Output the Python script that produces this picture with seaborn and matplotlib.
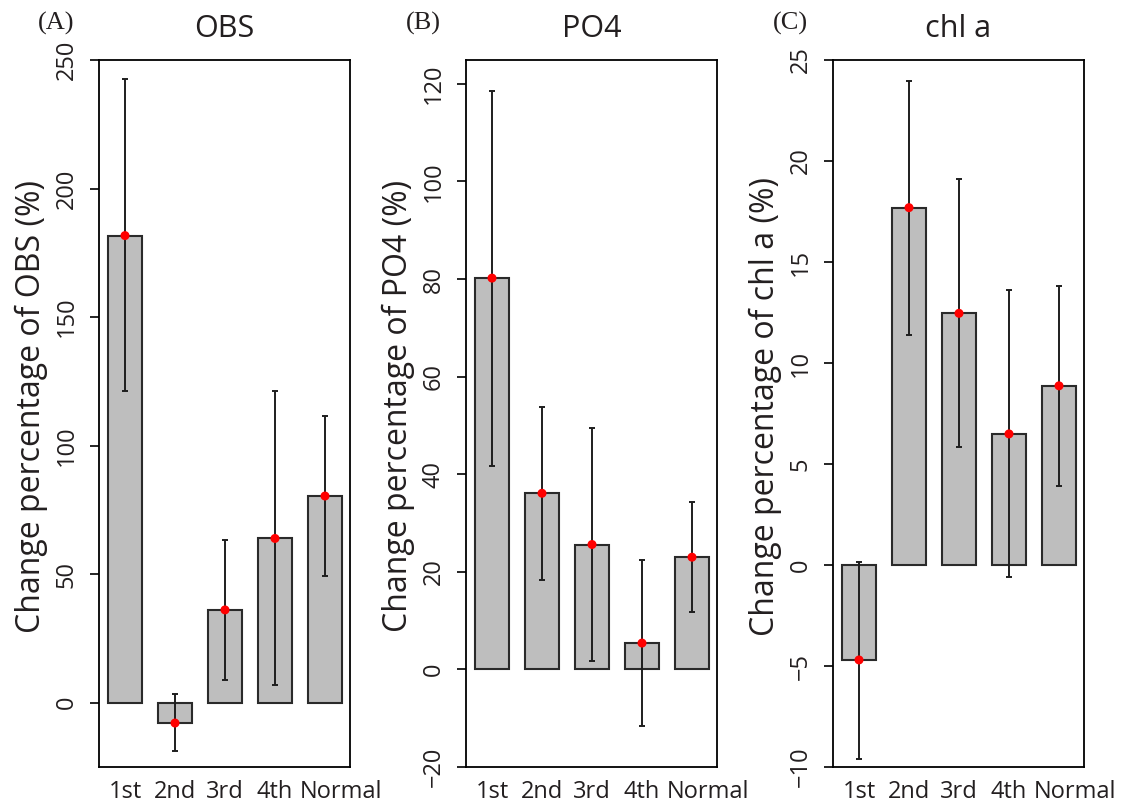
import numpy as np
import pandas as pd
import matplotlib
matplotlib.use("Agg")
import matplotlib.pyplot as plt
import matplotlib.transforms as mtransforms
import seaborn as sns

# ---------------- data ----------------
periods = ["1st", "2nd", "3rd", "4th", "Normal"]

obs_mean = [181.7, -7.9, 36.1, 63.9, 80.4]
obs_low = [121.2, -18.8, 8.8, 6.9, 49.3]
obs_high = [242.7, 3.4, 63.3, 121.1, 111.4]

po4_mean = [80.2, 36.1, 25.6, 5.4, 23.0]
po4_low = [41.7, 18.4, 1.8, -11.5, 11.7]
po4_high = [118.6, 53.8, 49.5, 22.5, 34.4]

chl_mean = [-4.70, 17.69, 12.46, 6.49, 8.87]
chl_low = [-9.58, 11.39, 5.85, -0.61, 3.92]
chl_high = [0.16, 23.97, 19.09, 13.59, 13.81]

titles = ["OBS", "PO4", "chl a"]
panel_tags = ["(A)", "(B)", "(C)"]
ylabels = ["Change percentage of OBS (%)",
           "Change percentage of PO4 (%)",
           "Change percentage of chl a (%)"]
yticks_list = [[0, 50, 100, 150, 200, 250],
               [-20, 0, 20, 40, 60, 80, 100, 120],
               [-10, -5, 0, 5, 10, 15, 20, 25]]
ylims = [(-25, 250), (-20, 124.9), (-10, 25)]

# ---------------- style ----------------
sns.set_theme(style="white")
plt.rcParams["font.family"] = ["Open Sans", "DejaVu Sans"]
plt.rcParams["axes.unicode_minus"] = True

W, H = 1126, 807
fig = plt.figure(figsize=(W / 100, H / 100), dpi=100)
fig.patch.set_facecolor("white")

axes_px = [(99, 350), (466, 717), (833, 1084)]
top_px, bot_px = 60, 767

series = [(obs_mean, obs_low, obs_high),
          (po4_mean, po4_low, po4_high),
          (chl_mean, chl_low, chl_high)]

edge = "#2a2a2a"
txt = "#231f20"
for i, ((m, lo, hi), (l_px, r_px)) in enumerate(zip(series, axes_px)):
    ax = fig.add_axes([l_px / W, 1 - bot_px / H, (r_px - l_px) / W, (bot_px - top_px) / H])
    df = pd.DataFrame({"period": periods, "mean": m, "low": lo, "high": hi})
    sns.barplot(data=df, x="period", y="mean", ax=ax, color="#BEBEBE",
                saturation=1, edgecolor=edge, linewidth=1.5, width=0.68,
                errorbar=None, zorder=2)
    xpos = np.arange(len(df))
    mean = df["mean"].to_numpy()
    yerr = np.vstack([mean - df["low"].to_numpy(), df["high"].to_numpy() - mean])
    ax.errorbar(xpos, mean, yerr=yerr, fmt="none", ecolor="#1e1e1e",
                elinewidth=1.4, capsize=2.0, capthick=1.4, zorder=3)
    ax.scatter(xpos, mean, s=42, color="#FF0000", edgecolor="none", zorder=4)

    ax.set_xlim(-0.52, 4.5)
    ax.set_ylim(*ylims[i])
    ax.set_yticks(yticks_list[i])
    ax.set_yticklabels([f"{t}".replace("-", "\u2212") for t in yticks_list[i]],
                       rotation=90, va="center", ha="right")
    ax.tick_params(axis="y", direction="out", length=6.5, width=1.2,
                   color="black", pad=8, labelsize=17, labelcolor=txt, left=True)
    ax.tick_params(axis="x", length=0, pad=9, labelsize=17, labelcolor=txt)
    # shift the "Normal" label slightly to the right, as in the original
    lab = ax.get_xticklabels()[-1]
    lab.set_transform(lab.get_transform() +
                      mtransforms.ScaledTranslation(16 / 100, 0, fig.dpi_scale_trans))
    ax.set_xlabel("")
    ax.set_ylabel(ylabels[i], fontsize=23, color=txt, va="center")
    ax.yaxis.set_label_coords(-68 / (r_px - l_px), 0.51)
    for sp in ax.spines.values():
        sp.set_visible(True)
        sp.set_color("black")
        sp.set_linewidth(1.3)
    ax.set_facecolor("white")
    ax.grid(False)

    ax.text(0.5, 1 + 31 / (bot_px - top_px), titles[i], transform=ax.transAxes,
            ha="center", va="center", fontsize=22, color=txt)
    fig.text((l_px - 43) / W, 1 - 23 / H, panel_tags[i], ha="center", va="center",
             fontsize=19, color=txt, family=["Liberation Serif", "DejaVu Serif"])

fig.savefig("out.png", dpi=100, facecolor="white")
